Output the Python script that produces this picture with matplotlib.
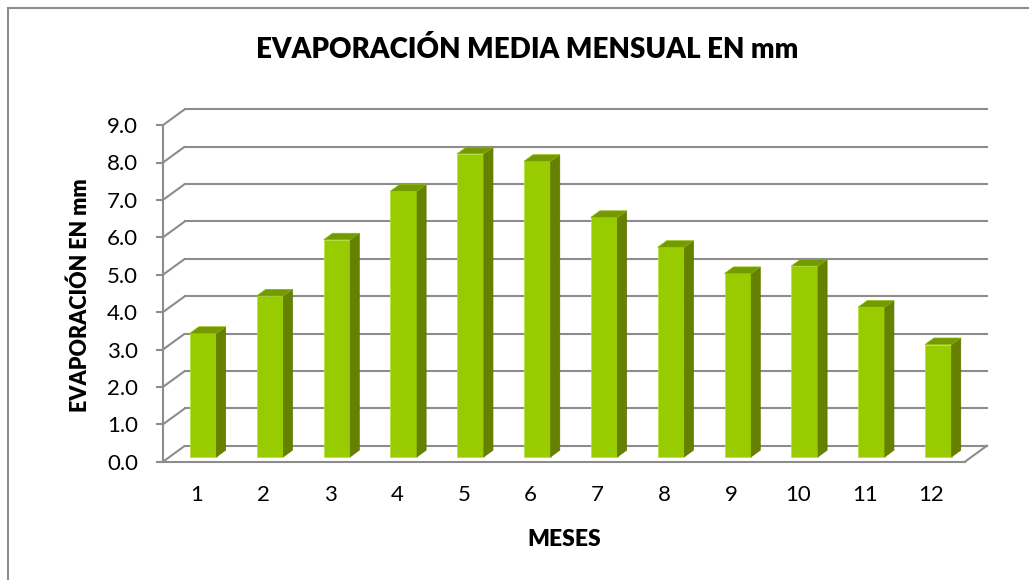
import matplotlib
matplotlib.use("Agg")
import matplotlib.pyplot as plt
from matplotlib.patches import Polygon, Rectangle

# data
months = list(range(1, 13))
evaporation = [3.3, 4.3, 5.8, 7.1, 8.1, 7.9, 6.4, 5.6, 4.9, 5.1, 4.0, 3.0]
y_ticks = [0, 1, 2, 3, 4, 5, 6, 7, 8, 9]

plt.rcParams["font.family"] = ["Lato", "DejaVu Sans"]

W, H = 1029, 580
fig = plt.figure(figsize=(W / 100, H / 100), dpi=100)

# chart area border
fig.patches.append(Rectangle((8 / W, -0.1), 1.2, (H - 8) / H + 0.1,
                             transform=fig.transFigure, fill=False,
                             edgecolor="#8c8c8c", lw=1.5))

# oblique "3D" geometry in data units
px_x, px_y = 66.83, 37.4          # pixels per category / per unit
dxw, dyw = 22 / px_x, 16 / px_y   # wall depth
f0, fd = 0.31, 0.41               # bar start and thickness along depth
bar_w = 0.4
xmin, xmax, ymax = 0.5, 13.0, 9.8

left_px, zero_px = 163, 461.7
ax = fig.add_axes([left_px / W, (H - zero_px) / H,
                   (xmax - xmin) * px_x / W, ymax * px_y / H])
ax.set_xlim(xmin, xmax)
ax.set_ylim(0, ymax)
ax.patch.set_visible(False)

grid_c = "#8c8c8c"
x_end = months[-1] + 0.5
for v in y_ticks:
    ax.plot([xmin, xmin + dxw], [v, v + dyw], color=grid_c, lw=1.5, zorder=1,
            solid_capstyle="butt")
    ax.plot([xmin + dxw, x_end + dxw], [v + dyw, v + dyw], color=grid_c,
            lw=1.5, zorder=1)
# floor right edge
ax.plot([x_end, x_end + dxw], [0, dyw], color=grid_c, lw=1.5, zorder=1)

# bars: front, side, top
ox, oy = f0 * dxw, f0 * dyw
ddx, ddy = fd * dxw, fd * dyw
for m, v in zip(months, evaporation):
    xl = m - bar_w / 2 + ox
    xr = xl + bar_w
    ax.bar(m + ox, v, bottom=oy, width=bar_w, color="#99CC00",
           edgecolor="#b3e33a", lw=0.5, zorder=3)
    side = [(xr, oy), (xr + ddx, oy + ddy), (xr + ddx, oy + v + ddy), (xr, oy + v)]
    top = [(xl, oy + v), (xr, oy + v), (xr + ddx, oy + v + ddy), (xl + ddx, oy + v + ddy)]
    ax.add_patch(Polygon(side, closed=True, facecolor="#668000",
                         edgecolor="#5c7300", lw=0.5, zorder=3))
    ax.add_patch(Polygon(top, closed=True, facecolor="#739A00",
                         edgecolor="#8ab800", lw=0.5, zorder=3))

for s in ["top", "right"]:
    ax.spines[s].set_visible(False)
ax.spines["left"].set_bounds(0, 9)
ax.spines["bottom"].set_bounds(xmin, x_end)
for s in ["left", "bottom"]:
    ax.spines[s].set_color(grid_c)
    ax.spines[s].set_linewidth(1.5)
    ax.spines[s].set_zorder(2)

ax.set_yticks(y_ticks)
ax.set_yticklabels([f"{v:.1f}" for v in y_ticks])
ax.set_xticks(months)
ax.set_xticklabels([str(m) for m in months])
ax.tick_params(axis="y", length=5, width=1.5, color=grid_c, pad=13,
               labelsize=16, labelcolor="black")
ax.tick_params(axis="x", length=0, pad=17, labelsize=16, labelcolor="black")

fig.text(527 / W, 1 - 50 / H, "EVAPORACIÓN MEDIA MENSUAL EN mm",
         ha="center", va="center", fontsize=20, fontweight="heavy")
fig.text(80 / W, 1 - 295 / H, "EVAPORACIÓN EN mm", rotation=90,
         ha="center", va="center", fontsize=15.5, fontweight="heavy")
fig.text(564 / W, 1 - 540 / H, "MESES", ha="center", va="center",
         fontsize=16.5, fontweight="heavy")

fig.savefig("out.png", dpi=100)
